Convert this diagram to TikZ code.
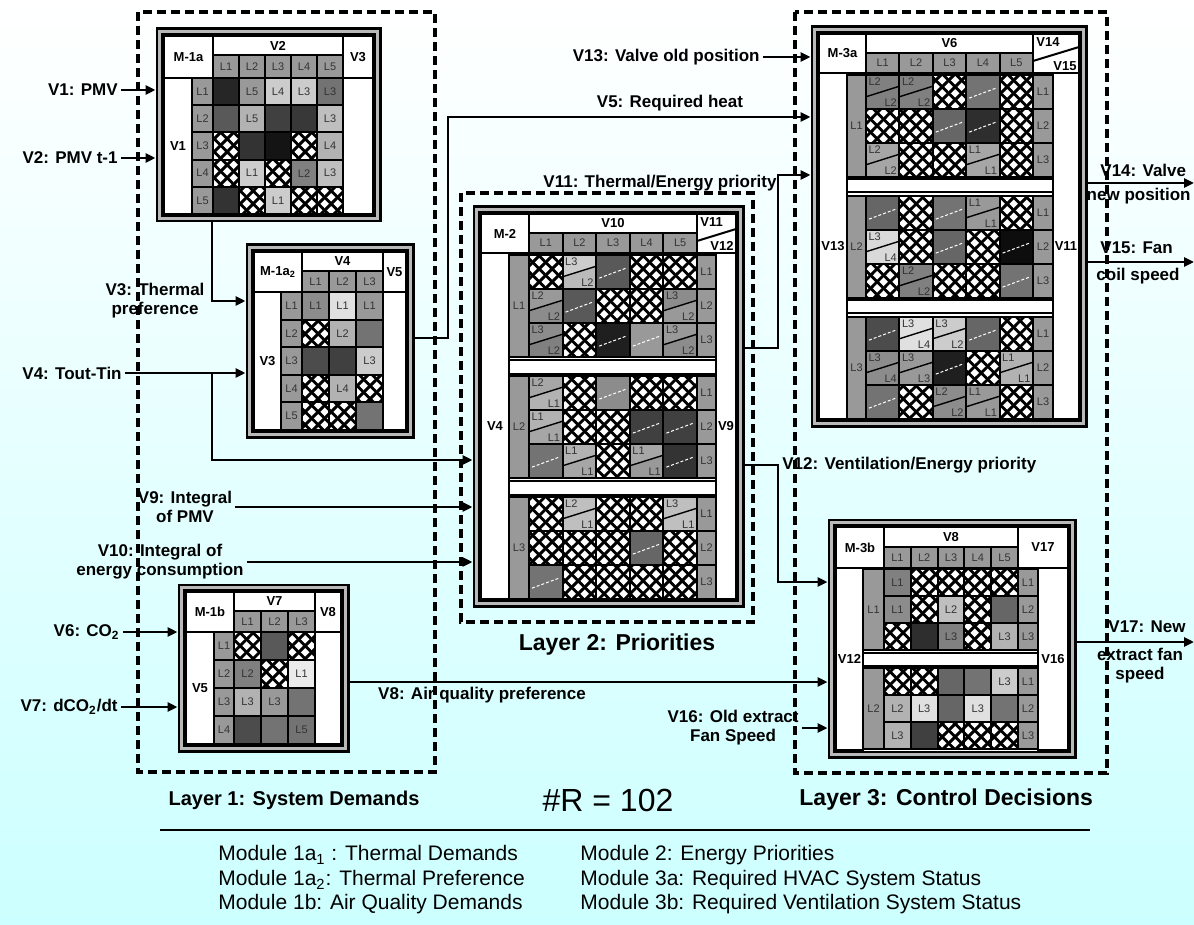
\documentclass[tikz,border=0pt]{standalone}
\usepackage{fontspec}
\setmainfont{Liberation Sans}
\usetikzlibrary{arrows.meta,positioning,fit,patterns}
\definecolor{bgcyan}{RGB}{204,255,255}

% thick cross hatch of the empty rules
\pgfdeclarepatternformonly{bigx}{\pgfpoint{0pt}{0pt}}{\pgfpoint{6.5pt}{6.5pt}}{\pgfpoint{6.5pt}{6.5pt}}{%
  \pgfsetlinewidth{1.5pt}%
  \pgfpathmoveto{\pgfpoint{-1pt}{-1pt}}\pgfpathlineto{\pgfpoint{7.5pt}{7.5pt}}%
  \pgfpathmoveto{\pgfpoint{-1pt}{7.5pt}}\pgfpathlineto{\pgfpoint{7.5pt}{-1pt}}%
  \pgfusepath{stroke}}

% table cells: \ox,\cw = first column and width, \oy,\rh = first row and height
\newcommand{\setrow}[1]{\pgfmathsetmacro{\ry}{\oy+(#1-1)*\rh}}
\newcommand{\pcell}[3]{%
  \filldraw[cellline, fill=black!#2] (\ox+#1*\cw-\cw,\ry) rectangle ++(\cw,\rh);
  \node[celltext] at (\ox+#1*\cw-\cw/2,\ry+\rh/2) {#3};}
\newcommand{\hcell}[1]{%
  \path[preaction={fill=white}, pattern=bigx] (\ox+#1*\cw-\cw,\ry) rectangle ++(\cw,\rh);
  \draw[cellline] (\ox+#1*\cw-\cw,\ry) rectangle ++(\cw,\rh);}
\newcommand{\dcell}[2]{%
  \filldraw[cellline, fill=black!#2] (\ox+#1*\cw-\cw,\ry) rectangle ++(\cw,\rh);
  \draw[white, line width=0.5pt, dash pattern=on 1.5pt off 1pt] (\ox+#1*\cw-\cw+3,\ry+0.68*\rh) -- (\ox+#1*\cw-3,\ry+0.38*\rh);}
\newcommand{\scell}[5]{%
  \fill[black!#2] (\ox+#1*\cw-\cw,\ry) rectangle ++(\cw,\rh);
  \fill[black!#3] (\ox+#1*\cw-\cw,\ry+0.64*\rh) -- (\ox+#1*\cw,\ry+0.33*\rh) -- (\ox+#1*\cw,\ry+\rh) -- (\ox+#1*\cw-\cw,\ry+\rh) -- cycle;
  \draw[line width=0.7pt] (\ox+#1*\cw-\cw,\ry+0.64*\rh) -- (\ox+#1*\cw,\ry+0.33*\rh);
  \draw[cellline] (\ox+#1*\cw-\cw,\ry) rectangle ++(\cw,\rh);
  \node[celltext, anchor=north west, inner sep=0.6pt] at (\ox+#1*\cw-\cw+1,\ry+1) {#4};
  \node[celltext, anchor=south east, inner sep=0.6pt] at (\ox+#1*\cw-1,\ry+\rh-1) {#5};}
\newcommand{\wbox}[5]{%
  \filldraw[cellline, fill=white] (#1,#2) rectangle (#3,#4);
  \node[hdtext] at ({(#1+#3)/2},{(#2+#4)/2}) {#5};}
\newcommand{\gbox}[5]{%
  \filldraw[cellline, fill=black!40] (#1,#2) rectangle (#3,#4);
  \node[celltext] at ({(#1+#3)/2},{(#2+#4)/2}) {#5};}

\begin{document}
\begin{tikzpicture}[x=0.5pt, y=-0.5pt,
    >={Triangle[length=5pt,width=4.5pt]},
    arr/.style={->, line width=1.4pt},
    layerbox/.style={line width=1.6pt, dash pattern=on 4.5pt off 2.5pt},
    modframe/.style={draw, fill=white, line width=1.3pt, double=gray!55, double distance=1.4pt, inner sep=0pt, outer sep=2pt},
    cellline/.style={draw=black, line width=1pt},
    celltext/.style={font=\fontsize{5.5}{6}\selectfont, text=black!80, inner sep=0pt},
    hdtext/.style={font=\bfseries\fontsize{6.5}{7}\selectfont, inner sep=0pt},
    vlbl/.style={font=\bfseries\fontsize{8.5}{9.5}\selectfont, inner sep=1.5pt, align=center},
    laylbl/.style={font=\bfseries\fontsize{10}{12}\selectfont, inner sep=1pt},
    leglbl/.style={font=\fontsize{10.5}{12}\selectfont, anchor=west, inner sep=0pt}]

  \useasboundingbox (0,0) rectangle (1194,925);
  \shade[top color=white, bottom color=bgcyan] (0,0) rectangle (1194,925);

  % layers
  \draw[layerbox] (138,12) rectangle (435,772);
  \draw[layerbox] (461,193) rectangle (753,622);
  \draw[layerbox] (795,12) rectangle (1107,773);

  % ---------------- M-1a
  \node[modframe, fit={(159.5,31.5) (377.5,218.5)}] (m1a) {};
  \wbox{164}{36}{213}{78}{M-1a}
  \wbox{213}{36}{343}{55}{V2}
  \wbox{343}{36}{373}{78}{V3}
  \wbox{164}{78}{192}{214}{V1}
  \wbox{343}{78}{373}{214}{}
  \foreach \l [count=\c] in {L1,L2,L3,L4,L5} {\gbox{213+\c*26-26}{55}{213+\c*26}{78}{\l}}
  \foreach \l [count=\r] in {L1,L2,L3,L4,L5} {\gbox{192}{78+\r*27.2-27.2}{213}{78+\r*27.2}{\l}}
  \def\ox{213}\def\cw{26}\def\oy{78}\def\rh{27.2}
  \setrow1 \pcell1{85}{} \pcell2{40}{L5} \pcell3{20}{L4} \pcell4{20}{L3} \pcell5{55}{L3}
  \setrow2 \pcell1{65}{} \pcell2{30}{L5} \pcell3{75}{} \pcell4{78}{} \pcell5{25}{L3}
  \setrow3 \hcell1 \pcell2{80}{} \pcell3{92}{} \hcell4 \pcell5{30}{L4}
  \setrow4 \hcell1 \pcell2{20}{L1} \hcell3 \pcell4{50}{L2} \pcell5{25}{L3}
  \setrow5 \pcell1{80}{} \hcell2 \pcell3{20}{L1} \hcell4 \hcell5

  % ---------------- M-1a2
  \node[modframe, fit={(249.5,247.5) (410.5,434.5)}] (m1a2) {};
  \wbox{254}{252}{302}{292}{M-1a\textsubscript{2}}
  \wbox{302}{252}{383}{271}{V4}
  \wbox{383}{252}{406}{292}{V5}
  \wbox{254}{292}{281}{430}{V3}
  \wbox{383}{292}{406}{430}{}
  \foreach \l [count=\c] in {L1,L2,L3} {\gbox{302+\c*27-27}{271}{302+\c*27}{292}{\l}}
  \foreach \l [count=\r] in {L1,L2,L3,L4,L5} {\gbox{281}{292+\r*27.6-27.6}{302}{292+\r*27.6}{\l}}
  \def\ox{302}\def\cw{27}\def\oy{292}\def\rh{27.6}
  \setrow1 \pcell1{45}{L1} \pcell2{12}{L1} \pcell3{40}{L1}
  \setrow2 \hcell1 \pcell2{30}{L2} \pcell3{55}{}
  \setrow3 \pcell1{70}{} \pcell2{75}{} \pcell3{20}{L3}
  \setrow4 \hcell1 \pcell2{30}{L4} \hcell3
  \setrow5 \hcell1 \hcell2 \pcell3{55}{}

  % ---------------- M-1b
  \node[modframe, fit={(181.5,587.5) (345.5,748.5)}] (m1b) {};
  \wbox{186}{592}{234}{632}{M-1b}
  \wbox{234}{592}{315}{611}{V7}
  \wbox{315}{592}{341}{632}{V8}
  \wbox{186}{632}{214}{744}{V5}
  \wbox{315}{632}{341}{744}{}
  \foreach \l [count=\c] in {L1,L2,L3} {\gbox{234+\c*27-27}{611}{234+\c*27}{632}{\l}}
  \foreach \l [count=\r] in {L1,L2,L3,L4} {\gbox{214}{632+\r*28-28}{234}{632+\r*28}{\l}}
  \def\ox{234}\def\cw{27}\def\oy{632}\def\rh{28}
  \setrow1 \hcell1 \pcell2{65}{} \hcell3
  \setrow2 \pcell1{50}{L2} \hcell2 \pcell3{8}{L1}
  \setrow3 \pcell1{30}{L3} \pcell2{40}{L3} \pcell3{55}{}
  \setrow4 \pcell1{70}{} \pcell2{55}{} \pcell3{55}{L5}

  % ---------------- M-2
  \node[modframe, fit={(476.5,209.5) (740.5,603.5)}] (m2) {};
  \wbox{481}{214}{529}{253}{M-2}
  \wbox{529}{214}{697}{233}{V10}
  \filldraw[cellline, fill=white] (697,214) rectangle (736,253);
  \draw[cellline] (697,241) -- (736,229);
  \node[hdtext, anchor=north west] (v11h) at (700,217) {V11};
  \node[hdtext, anchor=south east] (v12h) at (734,251) {V12};
  \wbox{481}{253}{509}{599}{V4}
  \wbox{716}{253}{736}{599}{V9}
  \foreach \l [count=\c] in {L1,L2,L3,L4,L5} {\gbox{529+\c*33.6-33.6}{233}{529+\c*33.6}{253}{\l}}
  \foreach \g [count=\k] in {255,376,497} {
    \gbox{509}{\g}{529}{\g+102}{L\k}
    \foreach \r in {1,2,3} {\gbox{697}{\g+\r*34-34}{716}{\g+\r*34}{L\r}}
  }
  \wbox{509}{359.5}{716}{373.5}{}
  \wbox{509}{480.5}{716}{494.5}{}
  \def\ox{529}\def\cw{33.6}\def\rh{34}
  \def\oy{255}
  \setrow1 \hcell1 \scell2{20}{27}{L3}{L2} \dcell3{65} \hcell4 \hcell5
  \setrow2 \scell1{40}{45}{L2}{L2} \dcell2{65} \hcell3 \hcell4 \scell5{45}{40}{L3}{L2}
  \setrow3 \scell1{45}{50}{L3}{L2} \hcell2 \dcell3{88} \dcell4{40} \scell5{40}{45}{L3}{L2}
  \def\oy{376}
  \setrow1 \scell1{35}{30}{L2}{L1} \hcell2 \dcell3{45} \hcell4 \hcell5
  \setrow2 \scell1{30}{35}{L1}{L1} \hcell2 \hcell3 \dcell4{75} \dcell5{75}
  \setrow3 \dcell1{55} \scell2{30}{35}{L1}{L1} \hcell3 \scell4{35}{40}{L1}{L1} \dcell5{80}
  \def\oy{497}
  \setrow1 \hcell1 \scell2{25}{25}{L2}{L1} \hcell3 \hcell4 \scell5{25}{25}{L3}{L1}
  \setrow2 \hcell1 \hcell2 \hcell3 \dcell4{60} \hcell5
  \setrow3 \dcell1{55} \hcell2 \hcell3 \hcell4 \hcell5

  % ---------------- M-3a
  \node[modframe, fit={(814.5,29.5) (1083.5,423.5)}] (m3a) {};
  \wbox{819}{34}{866}{73}{M-3a}
  \wbox{866}{34}{1033}{53}{V6}
  \filldraw[cellline, fill=white] (1033,34) rectangle (1079,73);
  \draw[cellline] (1033,61) -- (1079,47);
  \node[hdtext, anchor=north west] (v14h) at (1036,37) {V14};
  \node[hdtext, anchor=south east] (v15h) at (1077,71) {V15};
  \wbox{819}{73}{847}{419}{V13}
  \wbox{1053}{73}{1079}{419}{V11}
  \foreach \l [count=\c] in {L1,L2,L3,L4,L5} {\gbox{866+\c*33.4-33.4}{53}{866+\c*33.4}{73}{\l}}
  \foreach \g [count=\k] in {75,196,317} {
    \gbox{847}{\g}{866}{\g+102}{L\k}
    \foreach \r in {1,2,3} {\gbox{1033}{\g+\r*34-34}{1053}{\g+\r*34}{L\r}}
  }
  \wbox{847}{179.5}{1053}{192.5}{}
  \wbox{847}{300.5}{1053}{313.5}{}
  \def\ox{866}\def\cw{33.4}\def\rh{34}
  \def\oy{75}
  \setrow1 \scell1{50}{50}{L2}{L2} \scell2{50}{50}{L2}{L2} \hcell3 \dcell4{55} \hcell5
  \setrow2 \hcell1 \hcell2 \dcell3{60} \dcell4{82} \hcell5
  \setrow3 \scell1{35}{35}{L2}{L2} \hcell2 \hcell3 \scell4{35}{35}{L1}{L1} \hcell5
  \def\oy{196}
  \setrow1 \dcell1{60} \hcell2 \dcell3{55} \scell4{40}{40}{L1}{L1} \hcell5
  \setrow2 \scell1{15}{15}{L3}{L4} \hcell2 \dcell3{60} \hcell4 \dcell5{95}
  \setrow3 \hcell1 \scell2{50}{50}{L2}{L2} \hcell3 \hcell4 \dcell5{55}
  \def\oy{317}
  \setrow1 \dcell1{70} \scell2{12}{12}{L3}{L4} \scell3{20}{20}{L3}{L2} \dcell4{60} \hcell5
  \setrow2 \scell1{45}{45}{L3}{L4} \scell2{40}{40}{L3}{L3} \dcell3{88} \hcell4 \scell5{30}{30}{L1}{L1}
  \setrow3 \dcell1{55} \hcell2 \scell3{45}{45}{L2}{L2} \scell4{40}{40}{L1}{L1} \hcell5

  % ---------------- M-3b
  \node[modframe, fit={(831.5,522.5) (1072.5,754.5)}] (m3b) {};
  \wbox{836}{527}{884}{568}{M-3b}
  \wbox{884}{527}{1018}{547}{V8}
  \wbox{1018}{527}{1068}{568}{V17}
  \wbox{836}{568}{863}{750}{V12}
  \wbox{1038}{568}{1068}{750}{V16}
  \foreach \l [count=\c] in {L1,L2,L3,L4,L5} {\gbox{884+\c*26.8-26.8}{547}{884+\c*26.8}{568}{\l}}
  \foreach \g [count=\k] in {569,668} {
    \gbox{863}{\g}{884}{\g+81}{L\k}
    \foreach \r in {1,2,3} {\gbox{1018}{\g+\r*27-27}{1038}{\g+\r*27}{L\r}}
  }
  \wbox{863}{652.5}{1038}{665.5}{}
  \def\ox{884}\def\cw{26.8}\def\rh{27}
  \def\oy{569}
  \setrow1 \pcell1{50}{L1} \hcell2 \hcell3 \hcell4 \hcell5
  \setrow2 \pcell1{45}{L1} \hcell2 \pcell3{25}{L2} \hcell4 \pcell5{60}{}
  \setrow3 \hcell1 \pcell2{82}{} \pcell3{50}{L3} \hcell4 \pcell5{30}{L3}
  \def\oy{668}
  \setrow1 \hcell1 \hcell2 \pcell3{60}{} \pcell4{55}{} \pcell5{20}{L3}
  \setrow2 \pcell1{30}{L2} \pcell2{12}{L3} \pcell3{60}{} \pcell4{12}{L3} \pcell5{55}{}
  \setrow3 \pcell1{30}{L3} \pcell2{75}{} \hcell3 \hcell4 \hcell5

  % ---------------- variables
  \node[vlbl, anchor=east] (v1) at (121,90) {V1: PMV};
  \node[vlbl, anchor=east] (v2) at (121,158) {V2: PMV t-1};
  \node[vlbl] (v3) at (155,301) {V3: Thermal\\preference};
  \node[vlbl, anchor=east] (v4) at (125,373) {V4: Tout-Tin};
  \node[vlbl] (v9) at (185,507) {V9: Integral\\of PMV};
  \node[vlbl] (v10) at (160,562) {V10: Integral of\\energy consumption};
  \node[vlbl, anchor=east] (v6) at (123,632) {V6: CO\textsubscript{2}};
  \node[vlbl, anchor=east] (v7) at (121,707) {V7: dCO\textsubscript{2}/dt};
  \node[vlbl, anchor=east] (v13) at (763,57) {V13: Valve old position};
  \node[vlbl] (v5) at (670,103) {V5: Required heat};
  \node[vlbl] (v11) at (660,183) {V11: Thermal/Energy priority};
  \node[vlbl, anchor=west] (v12) at (779,465) {V12: Ventilation/Energy priority};
  \node[vlbl] (v8) at (482,695) {V8: Air quality preference};
  \node[vlbl, anchor=east] (v16) at (802,728) {V16: Old extract\\Fan Speed};
  \node[vlbl, anchor=west] (v14) at (1097,170) {V14: Valve};
  \node[vlbl, anchor=east] (v14b) at (1194,196) {new position};
  \node[vlbl, anchor=west] (v15) at (1097,248) {V15: Fan};
  \node[vlbl, anchor=west] (v15b) at (1093,276) {coil speed};
  \node[vlbl] (v17) at (1147,627) {V17: New};
  \node[vlbl] (v17b) at (1140,666) {extract fan\\speed};

  \coordinate (v3b) at (212,301);
  \coordinate (v4b) at (212,460);
  \coordinate (v5a) at (448,338);
  \coordinate (v5b) at (448,117);
  \coordinate (v11a) at (778,348);
  \coordinate (v11b) at (778,175);
  \coordinate (v12a) at (778,465);
  \coordinate (v12b) at (778,582);
  \coordinate (v8a) at (400,682);
  \coordinate (o14) at (1194,183);
  \coordinate (o15) at (1194,262);
  \coordinate (o17) at (1194,642);

  \draw[arr] (v1) to (v1 -| m1a.west);
  \draw[arr] (v2) to (v2 -| m1a.west);
  \draw[arr] (v3b |- m1a.south) -- (v3b) -- (v3b -| m1a2.west);
  \draw[arr] (v4) to (v4 -| m1a2.west);
  \draw[arr] (v4b |- v4) -- (v4b) -- (v4b -| m2.west);
  \draw[arr] (v9) to (v9 -| m2.west);
  \draw[arr] (v10) to (v10 -| m2.west);
  \draw[arr] (v6) to (v6 -| m1b.west);
  \draw[arr] (v7) to (v7 -| m1b.west);
  \draw[arr] (v5a -| m1a2.east) -- (v5a) -- (v5b) -- (v5b -| m3a.west);
  \draw[arr] (v13) to (v13 -| m3a.west);
  \draw[arr] (v11a -| m2.east) -- (v11a) -- (v11b) -- (v11b -| m3a.west);
  \draw[arr] (v12a -| m2.east) -- (v12a) -- (v12b) -- (v12b -| m3b.west);
  \draw[arr] (v8a -| m1b.east) -- (v8a -| m3b.west);
  \draw[arr] (v16) to (v16 -| m3b.west);
  \draw[arr] (o14 -| m3a.east) -- (o14);
  \draw[arr] (o15 -| m3a.east) -- (o15);
  \draw[arr] (o17 -| m3b.east) -- (o17);

  % ---------------- captions and legend
  \node[laylbl] (lay1) at (294,800) {Layer 1: System Demands};
  \node[laylbl, font=\bfseries\fontsize{11.5}{13}\selectfont] (lay2) at (617,645) {Layer 2: Priorities};
  \node[laylbl, font=\bfseries\fontsize{11.5}{13}\selectfont, anchor=west] (lay3) at (797,800) {Layer 3: Control Decisions};
  \node[font=\fontsize{16}{18}\selectfont] (nrules) at (608,800) {\#R = 102};
  \coordinate (rulel) at (160,830);
  \coordinate (ruler) at (1090,830);
  \draw[line width=0.8pt] (rulel) -- (ruler);

  \node[leglbl] (leg1) at (218,855) {Module 1a\textsubscript{1} : Thermal Demands};
  \node[leglbl] (leg2) at (218,880) {Module 1a\textsubscript{2}: Thermal Preference};
  \node[leglbl] (leg3) at (218,904) {Module 1b: Air Quality Demands};
  \node[leglbl] (leg4) at (580,855) {Module 2: Energy Priorities};
  \node[leglbl] (leg5) at (580,880) {Module 3a: Required HVAC System Status};
  \node[leglbl] (leg6) at (580,904) {Module 3b: Required Ventilation System Status};
\end{tikzpicture}
\end{document}
